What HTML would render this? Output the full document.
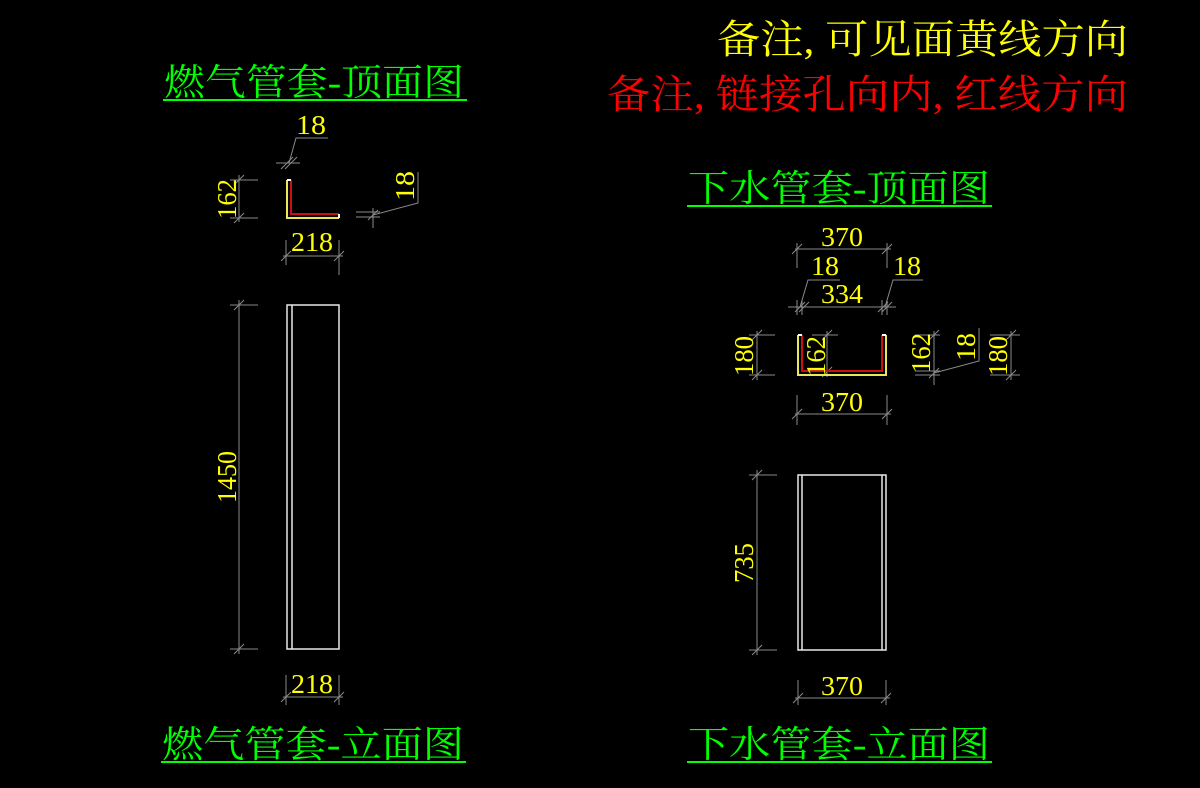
<!DOCTYPE html>
<html><head><meta charset="utf-8"><style>
html,body{margin:0;padding:0;background:#000;}
svg{display:block}
.t{font-family:"Liberation Serif","Noto Serif CJK SC","Noto Sans CJK SC",serif;}
.d{fill:#ffff00;font-family:"Liberation Serif",serif;font-size:27px;}
.g{fill:#00ff00;font-size:37px;}
</style></head><body>
<svg width="1200" height="788" viewBox="0 0 1200 788" xmlns="http://www.w3.org/2000/svg">
<rect width="1200" height="788" fill="#000"/>
<g class="t">
<text x="717" y="53" fill="#ffff00" font-size="40" textLength="411" lengthAdjust="spacingAndGlyphs">备注, 可见面黄线方向</text>
<text x="607" y="108" fill="#ff0000" font-size="40" textLength="521" lengthAdjust="spacingAndGlyphs">备注, 链接孔向内, 红线方向</text>
<text class="g" x="164" y="95" textLength="300" lengthAdjust="spacingAndGlyphs">燃气管套-顶面图</text>
<text class="g" x="688" y="201" textLength="302" lengthAdjust="spacingAndGlyphs">下水管套-顶面图</text>
<text class="g" x="162" y="757" textLength="302" lengthAdjust="spacingAndGlyphs">燃气管套-立面图</text>
<text class="g" x="688" y="757" textLength="302" lengthAdjust="spacingAndGlyphs">下水管套-立面图</text>
</g>
<g stroke="#00ff00" stroke-width="2">
<line x1="163" y1="100" x2="467" y2="100"/>
<line x1="687" y1="206" x2="992" y2="206"/>
<line x1="161" y1="762" x2="466" y2="762"/>
<line x1="687" y1="762" x2="992" y2="762"/>
</g>

<g stroke="#8a8a8a" stroke-width="1" fill="none">
<line x1="230" y1="180" x2="258" y2="180"/><line x1="230" y1="218" x2="258" y2="218"/>
<line x1="239" y1="175" x2="239" y2="222"/>
<line x1="234" y1="185" x2="244" y2="175"/><line x1="234" y1="223" x2="244" y2="213"/>
<line x1="286" y1="240" x2="286" y2="265"/><line x1="339" y1="240" x2="339" y2="275"/>
<line x1="283" y1="256" x2="343" y2="256"/>
<line x1="281" y1="261" x2="291" y2="251"/><line x1="334" y1="261" x2="344" y2="251"/>
<line x1="276" y1="163" x2="300" y2="163"/><line x1="281" y1="169" x2="293" y2="157"/>
<line x1="285" y1="169" x2="297" y2="157"/>
<polyline points="289,163 296,138 328,138"/>
<line x1="356" y1="212" x2="380" y2="212"/><line x1="356" y1="217" x2="380" y2="217"/>
<line x1="373" y1="208" x2="373" y2="228"/><line x1="368" y1="220" x2="378" y2="210"/>
<polyline points="373,215 418,203 418,172"/>
<line x1="230" y1="305" x2="258" y2="305"/><line x1="230" y1="649" x2="258" y2="649"/>
<line x1="239" y1="300" x2="239" y2="654"/>
<line x1="234" y1="310" x2="244" y2="300"/><line x1="234" y1="654" x2="244" y2="644"/>
<line x1="286" y1="675" x2="286" y2="705"/><line x1="339" y1="675" x2="339" y2="705"/>
<line x1="283" y1="697" x2="343" y2="697"/>
<line x1="281" y1="702" x2="291" y2="692"/><line x1="334" y1="702" x2="344" y2="692"/>
<line x1="797" y1="243" x2="797" y2="268"/><line x1="887" y1="243" x2="887" y2="268"/>
<line x1="795" y1="249" x2="891" y2="249"/>
<line x1="792" y1="254" x2="802" y2="244"/><line x1="882" y1="254" x2="892" y2="244"/>
<line x1="788" y1="307" x2="896" y2="307"/>
<line x1="797" y1="300" x2="797" y2="315"/><line x1="802" y1="300" x2="802" y2="315"/>
<line x1="882" y1="300" x2="882" y2="315"/><line x1="887" y1="300" x2="887" y2="315"/>
<line x1="795" y1="312" x2="805" y2="302"/><line x1="799" y1="312" x2="809" y2="302"/>
<line x1="878" y1="312" x2="888" y2="302"/><line x1="882" y1="312" x2="892" y2="302"/>
<polyline points="800,307 808,280 840,280"/>
<polyline points="885,307 893,280 923,280"/>
<line x1="749" y1="335" x2="775" y2="335"/><line x1="749" y1="375" x2="775" y2="375"/>
<line x1="757" y1="331" x2="757" y2="380"/>
<line x1="752" y1="340" x2="762" y2="330"/><line x1="752" y1="380" x2="762" y2="370"/>
<line x1="812" y1="335" x2="838" y2="335"/><line x1="827" y1="331" x2="827" y2="377"/>
<line x1="822" y1="340" x2="832" y2="330"/><line x1="822" y1="377" x2="832" y2="367"/>
<line x1="915" y1="335" x2="940" y2="335"/><line x1="915" y1="371" x2="940" y2="371"/><line x1="915" y1="375" x2="940" y2="375"/>
<line x1="934" y1="331" x2="934" y2="385"/>
<line x1="929" y1="340" x2="939" y2="330"/><line x1="929" y1="378" x2="939" y2="368"/>
<polyline points="934,373 979,361 979,328"/>
<line x1="990" y1="335" x2="1020" y2="335"/><line x1="990" y1="375" x2="1020" y2="375"/>
<line x1="1011" y1="331" x2="1011" y2="380"/>
<line x1="1006" y1="340" x2="1016" y2="330"/><line x1="1006" y1="380" x2="1016" y2="370"/>
<line x1="797" y1="395" x2="797" y2="425"/><line x1="887" y1="395" x2="887" y2="425"/>
<line x1="795" y1="414" x2="891" y2="414"/>
<line x1="792" y1="419" x2="802" y2="409"/><line x1="882" y1="419" x2="892" y2="409"/>
<line x1="749" y1="475" x2="777" y2="475"/><line x1="749" y1="650" x2="777" y2="650"/>
<line x1="757" y1="470" x2="757" y2="655"/>
<line x1="752" y1="480" x2="762" y2="470"/><line x1="752" y1="655" x2="762" y2="645"/>
<line x1="798" y1="680" x2="798" y2="705"/><line x1="886" y1="680" x2="886" y2="705"/>
<line x1="795" y1="698" x2="890" y2="698"/>
<line x1="793" y1="703" x2="803" y2="693"/><line x1="881" y1="703" x2="891" y2="693"/>
</g>

<g fill="none" stroke-width="2">
<polyline points="287,180 287,218 339,218" stroke="#e8e85a"/>
<polyline points="291,180 291,214 339,214" stroke="#cc1010"/>
<line x1="287" y1="180" x2="291" y2="180" stroke="#fff"/>
<line x1="339" y1="214" x2="339" y2="218" stroke="#fff"/>
<polyline points="798,335 798,375 886,375 886,335" stroke="#e8e85a"/>
<polyline points="802,335 802,371 882,371 882,335" stroke="#cc1010"/>
<line x1="798" y1="335" x2="802" y2="335" stroke="#fff"/>
<line x1="882" y1="335" x2="886" y2="335" stroke="#fff"/>
</g>
<g fill="none" stroke="#e8e8e8" stroke-width="1.5">
<rect x="287" y="305" width="52" height="344"/>
<line x1="292" y1="305" x2="292" y2="649"/>
<rect x="798" y="475" width="88" height="175"/>
<line x1="802" y1="475" x2="802" y2="650"/>
<line x1="882" y1="475" x2="882" y2="650"/>
</g>

<g class="d">
<text x="296" y="134" textLength="30" lengthAdjust="spacingAndGlyphs">18</text>
<text x="291" y="251" textLength="42" lengthAdjust="spacingAndGlyphs">218</text>
<text transform="translate(236,199) rotate(-90)" text-anchor="middle" textLength="40" lengthAdjust="spacingAndGlyphs">162</text>
<text transform="translate(414,186) rotate(-90)" text-anchor="middle" textLength="30" lengthAdjust="spacingAndGlyphs">18</text>
<text transform="translate(236,477) rotate(-90)" text-anchor="middle" textLength="52" lengthAdjust="spacingAndGlyphs">1450</text>
<text x="291" y="693" textLength="42" lengthAdjust="spacingAndGlyphs">218</text>
<text x="821" y="246" textLength="42" lengthAdjust="spacingAndGlyphs">370</text>
<text x="811" y="275" textLength="28" lengthAdjust="spacingAndGlyphs">18</text>
<text x="893" y="275" textLength="28" lengthAdjust="spacingAndGlyphs">18</text>
<text x="821" y="303" textLength="42" lengthAdjust="spacingAndGlyphs">334</text>
<text transform="translate(753,356) rotate(-90)" text-anchor="middle" textLength="40" lengthAdjust="spacingAndGlyphs">180</text>
<text transform="translate(825,356) rotate(-90)" text-anchor="middle" textLength="40" lengthAdjust="spacingAndGlyphs">162</text>
<text transform="translate(930,353) rotate(-90)" text-anchor="middle" textLength="40" lengthAdjust="spacingAndGlyphs">162</text>
<text transform="translate(975,347) rotate(-90)" text-anchor="middle" textLength="28" lengthAdjust="spacingAndGlyphs">18</text>
<text transform="translate(1007,356) rotate(-90)" text-anchor="middle" textLength="40" lengthAdjust="spacingAndGlyphs">180</text>
<text x="821" y="411" textLength="42" lengthAdjust="spacingAndGlyphs">370</text>
<text transform="translate(753,563) rotate(-90)" text-anchor="middle" textLength="40" lengthAdjust="spacingAndGlyphs">735</text>
<text x="821" y="695" textLength="42" lengthAdjust="spacingAndGlyphs">370</text>
</g>
</svg>
</body></html>
